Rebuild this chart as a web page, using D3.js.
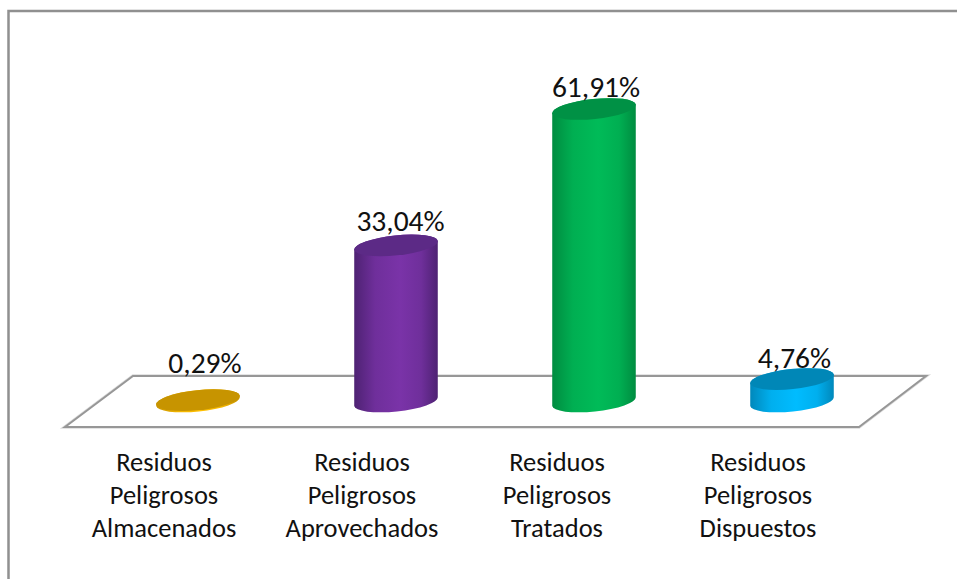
<!DOCTYPE html>
<html><head><meta charset="utf-8">
<script src="https://cdn.jsdelivr.net/npm/d3@7/dist/d3.min.js"></script>
<style>html,body{margin:0;padding:0;background:#fff}svg{display:block}text{font-family:Carlito,Lato,sans-serif;fill:#111}</style>
</head><body><div id="chart"></div>
<script>
const categories = [["Residuos","Peligrosos","Almacenados"],["Residuos","Peligrosos","Aprovechados"],["Residuos","Peligrosos","Tratados"],["Residuos","Peligrosos","Dispuestos"]];
const values = [0.29,33.04,61.91,4.76];
const valueLabels = ["0,29%","33,04%","61,91%","4,76%"];
const mid = ["#ffc000","#7a33a8","#00bb58","#00bcff"];
const edge = ["#c79400","#4e2273","#008c40","#0088bb"];
const topc = ["#c79400","#5c2a86","#009145","#0087b7"];
// hand placement offsets of the text, as in the reference
const valueDx = [7,4.5,2,2.5], valueDy = [27,14,12,11], catDx = [-34,-34,-37,-34];
const W=957,H=579;
const svg=d3.select("#chart").append("svg").attr("width",W).attr("height",H);
const x=d3.scaleBand().domain(d3.range(4)).range([99,891]).padding(0);
const y=d3.scaleLinear().domain([0,61.91]).range([401.5,109]);
const defs=svg.append("defs");
values.forEach((v,i)=>{
  const g=defs.append("linearGradient").attr("id","g"+i);
  [[0,edge[i]],[.25,d3.interpolateRgb(edge[i],mid[i])(.75)],[.55,mid[i]],[.8,d3.interpolateRgb(edge[i],mid[i])(.75)],[1,edge[i]]].forEach(s=>g.append("stop").attr("offset",s[0]).attr("stop-color",s[1]));
});
svg.append("path").attr("d","M8.5,579V11H957").attr("fill","none").attr("stroke","#909090").attr("stroke-width",2.5);
const floor=[[65,427],[859,427],[926,376],[133,376]];
svg.append("path").attr("d",d3.line()(floor)+"Z").attr("fill","#fff").attr("stroke","#dcdcdc").attr("stroke-width",3.5);
svg.append("path").attr("d",d3.line()(floor)+"Z").attr("fill","#fff").attr("stroke","#979797").attr("stroke-width",2);
const rx=42,ry=10,deg=6,a=deg*Math.PI/180;
const ext=rx*Math.cos(a), dy=rx*Math.sin(a);
const marks=svg.selectAll("g.bar").data(values).join("g").attr("class","bar").attr("transform",(d,i)=>`translate(${x(i)+x.bandwidth()/2},0)`);
marks.append("path").attr("fill",(d,i)=>`url(#g${i})`).attr("d",d=>{
  const t=y(d),b=y(0);
  return `M${-ext},${t+dy}L${-ext},${b+dy}A${rx},${ry},${-deg},0,0,${ext},${b-dy}L${ext},${t-dy}A${rx},${ry},${-deg},0,0,${-ext},${t+dy}Z`;
});
marks.append("ellipse").attr("rx",rx).attr("ry",ry).attr("fill",(d,i)=>topc[i])
  .attr("transform",d=>`translate(0,${y(d)}) rotate(${-deg})`);
marks.append("text").attr("text-anchor","middle").attr("font-size",29.5)
  .attr("x",(d,i)=>valueDx[i]).attr("y",(d,i)=>y(d)-valueDy[i]).text((d,i)=>valueLabels[i]);
marks.each(function(d,i){
  const t=d3.select(this).append("text").attr("text-anchor","middle").attr("font-size",26.5);
  categories[i].forEach((s,j)=>t.append("tspan").attr("x",catDx[i]).attr("y",471+j*33).text(s));
});
</script></body></html>
